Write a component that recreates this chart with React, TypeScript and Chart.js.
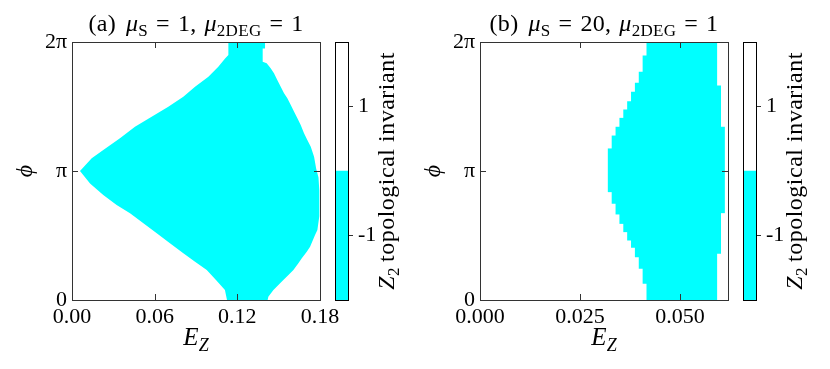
import React, { useEffect, useRef } from 'react';
import { Chart, registerables } from 'chart.js';

Chart.register(...registerables);

const FONT = '"Liberation Serif", "DejaVu Serif", serif';
const CYAN = '#00ffff';
const FRAME = '#333333';

// ---------- Panel (a): mu_S = 1, mu_2DEG = 1 ----------
const X_MAX_A = 0.18;
const X_TICKS_A = [0, 0.06, 0.12, 0.18];
// left edge of the Z2 = -1 region, from phi = 0 up to phi = 2pi (phi in units of pi)
const LEFT_EDGE_EZ_A = [0.1125, 0.111, 0.105, 0.0978, 0.0893, 0.0808, 0.0711, 0.0615, 0.0518, 0.0421, 0.0324, 0.0227, 0.0131, 0.0058, 0.0143, 0.0227, 0.0348, 0.0457, 0.0578, 0.0699, 0.0808, 0.0893, 0.099, 0.1062, 0.1111, 0.1135, 0.1135];
const LEFT_EDGE_PHI_A = [0, 0.078, 0.15, 0.233, 0.297, 0.362, 0.439, 0.517, 0.594, 0.672, 0.736, 0.814, 0.904, 1.0, 1.098, 1.163, 1.253, 1.343, 1.421, 1.498, 1.576, 1.653, 1.731, 1.809, 1.873, 1.899, 2.0];
// right edge, from phi = 2pi down to phi = 0
const RIGHT_EDGE_EZ_A = [0.1401, 0.1401, 0.1384, 0.1384, 0.1413, 0.1442, 0.1466, 0.149, 0.1515, 0.1539, 0.1563, 0.1588, 0.1612, 0.1636, 0.166, 0.1684, 0.1708, 0.1733, 0.1757, 0.1772, 0.1789, 0.1795, 0.1795, 0.1781, 0.1764, 0.1728, 0.1704, 0.1668, 0.1643, 0.1607, 0.1571, 0.1534, 0.1498, 0.1462, 0.1425, 0.142];
const RIGHT_EDGE_PHI_A = [2.0, 1.95, 1.95, 1.847, 1.835, 1.796, 1.757, 1.705, 1.654, 1.602, 1.563, 1.512, 1.46, 1.408, 1.357, 1.292, 1.24, 1.188, 1.111, 1.02, 0.95, 0.85, 0.65, 0.543, 0.504, 0.413, 0.375, 0.323, 0.284, 0.233, 0.194, 0.155, 0.116, 0.078, 0.026, 0];

// ---------- Panel (b): mu_S = 20, mu_2DEG = 1 ----------
const X_MAX_B = 0.062;
const X_TICKS_B = [0, 0.025, 0.05];
const EZ_COLUMNS_B = [0.032564, 0.033531, 0.034498, 0.035465, 0.036432, 0.037399, 0.038366, 0.039333, 0.0403, 0.041267, 0.042234, 0.043201, 0.044168, 0.045135, 0.046102, 0.047069, 0.048036, 0.049003, 0.04997, 0.050937, 0.051904, 0.052871, 0.053838, 0.054805, 0.055772, 0.056739, 0.057706, 0.058673, 0.05964, 0.060607];
const PHI_LOW_B = [0.84, 0.75, 0.667, 0.594, 0.53, 0.465, 0.408, 0.336, 0.246, 0.129, 0, 0, 0, 0, 0, 0, 0, 0, 0, 0, 0, 0, 0, 0, 0, 0, 0, 0, 0.362, 0.677];
const PHI_HIGH_B = [1.171, 1.271, 1.339, 1.408, 1.473, 1.537, 1.61, 1.68, 1.765, 1.891, 2, 2, 2, 2, 2, 2, 2, 2, 2, 2, 2, 2, 2, 2, 2, 2, 2, 2, 1.659, 1.339];

// ---------- shared axes ----------
const PHI_TICKS = [0, 1, 2]; // units of pi
const PHI_TICK_LABELS = ['0', 'π', '2π'];
const CBAR_MIN = -2;
const CBAR_MAX = 2;
const CBAR_TICKS = [-1, 1];
const CBAR_TICK_LABELS = ['-1', '1'];
const Z2_VALUES = [-1, 1];
const Z2_COLORS = [CYAN, '#ffffff'];

type Part = { t: string; it?: boolean; sub?: boolean; gap?: number };

const TITLE_A: Part[] = [
  { t: '(a)' }, { t: '', gap: 10 }, { t: 'μ', it: true }, { t: 'S', sub: true }, { t: '', gap: 8 }, { t: '=' }, { t: '', gap: 8 }, { t: '1,' }, { t: '', gap: 8 },
  { t: 'μ', it: true }, { t: '2DEG', sub: true }, { t: '', gap: 8 }, { t: '=' }, { t: '', gap: 8 }, { t: '1' },
];
const TITLE_B: Part[] = [
  { t: '(b)' }, { t: '', gap: 10 }, { t: 'μ', it: true }, { t: 'S', sub: true }, { t: '', gap: 8 }, { t: '=' }, { t: '', gap: 8 }, { t: '20,' }, { t: '', gap: 8 },
  { t: 'μ', it: true }, { t: '2DEG', sub: true }, { t: '', gap: 8 }, { t: '=' }, { t: '', gap: 8 }, { t: '1' },
];
const X_LABEL: Part[] = [{ t: 'E', it: true }, { t: 'Z', it: true, sub: true }];
const Y_LABEL: Part[] = [{ t: 'ϕ', it: true }];
const CBAR_LABEL: Part[] = [{ t: 'Z', it: true }, { t: '2', sub: true }, { t: '', gap: 5 }, { t: 'topological invariant' }];

function partFont(p: Part, size: number) {
  const s = p.sub ? Math.round(size * 0.7) : size;
  return `${p.it ? 'italic ' : ''}${s}px ${FONT}`;
}

function drawRich(ctx: CanvasRenderingContext2D, parts: Part[], x: number, y: number, size = 24, spacing = 0) {
  ctx.save();
  ctx.textBaseline = 'alphabetic';
  ctx.textAlign = 'left';
  ctx.fillStyle = '#000';
  (ctx as any).letterSpacing = `${spacing}px`;
  const widthOf = (p: Part) => {
    if (p.gap) return p.gap;
    ctx.font = partFont(p, size);
    return ctx.measureText(p.t).width;
  };
  let w = 0;
  for (const p of parts) w += widthOf(p);
  let cx = x - w / 2;
  for (const p of parts) {
    const pw = widthOf(p);
    if (!p.gap) ctx.fillText(p.t, cx, y + (p.sub ? Math.round(size * 0.22) : 0));
    cx += pw;
  }
  ctx.restore();
}

function makeDecor(title: Part[]) {
  return {
    id: 'decor',
    afterDraw(chart: any) {
      const { ctx, chartArea: a, scales } = chart;
      const xs = scales.x;
      const ys = scales.y;
      ctx.save();
      ctx.strokeStyle = FRAME;
      ctx.lineWidth = 1;
      ctx.beginPath();
      for (const t of xs.ticks) {
        const px = Math.round(xs.getPixelForValue(t.value)) + 0.5;
        ctx.moveTo(px, a.bottom);
        ctx.lineTo(px, a.bottom - 6);
        ctx.moveTo(px, a.top);
        ctx.lineTo(px, a.top + 6);
      }
      for (const t of ys.ticks) {
        const py = Math.round(ys.getPixelForValue(t.value)) + 0.5;
        ctx.moveTo(a.left, py);
        ctx.lineTo(a.left + 6, py);
        ctx.moveTo(a.right, py);
        ctx.lineTo(a.right - 6, py);
      }
      ctx.stroke();
      ctx.strokeRect(Math.round(a.left) + 0.5, Math.round(a.top) + 0.5, Math.round(a.right - a.left), Math.round(a.bottom - a.top));
      const cx = (a.left + a.right) / 2;
      drawRich(ctx, title, cx, 31, 24, 0.3);
      drawRich(ctx, X_LABEL, cx, 345, 25);
      ctx.translate(a.left - 40, (a.top + a.bottom) / 2);
      ctx.rotate(-Math.PI / 2);
      drawRich(ctx, Y_LABEL, 0, 0, 24);
      ctx.restore();
    },
  };
}

const cbarDecor = {
  id: 'cbarDecor',
  afterDraw(chart: any) {
    const { ctx, chartArea: a } = chart;
    ctx.save();
    ctx.strokeStyle = '#000';
    ctx.lineWidth = 1;
    ctx.strokeRect(Math.round(a.left) + 0.5, Math.round(a.top) + 0.5, Math.round(a.right - a.left), Math.round(a.bottom - a.top));
    ctx.translate(a.right + 46, (a.top + a.bottom) / 2);
    ctx.rotate(-Math.PI / 2);
    drawRich(ctx, CBAR_LABEL, 0, 0, 24, 0.5);
    ctx.restore();
  },
};

const tickFont = { family: FONT, size: 22 };

function phiAxis() {
  return {
    type: 'linear',
    min: 0,
    max: 2,
    grid: { display: false, drawTicks: false },
    border: { display: false },
    afterBuildTicks: (s: any) => { s.ticks = PHI_TICKS.map((v) => ({ value: v })); },
    afterFit: (s: any) => { s.width = 72; },
    ticks: { font: tickFont, color: '#000', padding: 5, callback: (_v: any, i: number) => PHI_TICK_LABELS[i] },
  };
}

function ezAxis(max: number, ticks: number[], digits: number) {
  return {
    type: 'linear',
    min: 0,
    max,
    offset: false,
    grid: { display: false, drawTicks: false, offset: false },
    border: { display: false },
    afterBuildTicks: (s: any) => { s.ticks = ticks.map((v) => ({ value: v })); },
    afterFit: (s: any) => { s.height = 69; },
    ticks: { font: tickFont, color: '#000', padding: 4, maxRotation: 0, autoSkip: false, callback: (v: any) => Number(v).toFixed(digits) },
  };
}

const baseOptions = {
  animation: false,
  responsive: false,
  maintainAspectRatio: false,
  events: [],
  plugins: { legend: { display: false }, tooltip: { enabled: false }, title: { display: false } },
};

function cbarConfig() {
  return {
    type: 'bar',
    data: {
      labels: [''],
      datasets: Z2_VALUES.map((z, i) => ({
        label: `Z2 = ${z}`,
        data: [[z < 0 ? CBAR_MIN : 0, z < 0 ? 0 : CBAR_MAX]],
        backgroundColor: Z2_COLORS[i],
        borderWidth: 0,
        categoryPercentage: 1,
        barPercentage: 1,
        grouped: false,
      })),
    },
    options: {
      ...baseOptions,
      layout: { padding: { left: 5, right: 0, top: 42, bottom: 69 } },
      scales: {
        x: { display: false },
        y: {
          type: 'linear',
          position: 'right',
          min: CBAR_MIN,
          max: CBAR_MAX,
          border: { display: false },
          grid: { drawOnChartArea: false, drawTicks: true, tickLength: 5, color: FRAME },
          afterBuildTicks: (s: any) => { s.ticks = CBAR_TICKS.map((v) => ({ value: v })); },
          afterFit: (s: any) => { s.width = 67; },
          ticks: { font: tickFont, color: '#000', padding: 5, callback: (_v: any, i: number) => CBAR_TICK_LABELS[i] },
        },
      },
    },
    plugins: [cbarDecor],
  };
}

export default function App() {
  const aRef = useRef<HTMLCanvasElement>(null);
  const bRef = useRef<HTMLCanvasElement>(null);
  const caRef = useRef<HTMLCanvasElement>(null);
  const cbRef = useRef<HTMLCanvasElement>(null);

  useEffect(() => {
    const polygonA = [
      ...LEFT_EDGE_EZ_A.map((x, i) => ({ x, y: LEFT_EDGE_PHI_A[i] })),
      ...RIGHT_EDGE_EZ_A.map((x, i) => ({ x, y: RIGHT_EDGE_PHI_A[i] })),
    ];
    const chartA = new Chart(aRef.current as HTMLCanvasElement, {
      type: 'line',
      data: {
        datasets: [{
          label: 'Z2 = -1',
          data: polygonA,
          fill: 'shape',
          backgroundColor: CYAN,
          borderColor: CYAN,
          borderWidth: 0,
          pointRadius: 0,
          tension: 0,
        }],
      },
      options: {
        ...baseOptions,
        layout: { padding: { left: 0, right: 25, top: 42, bottom: 0 } },
        scales: { x: ezAxis(X_MAX_A, X_TICKS_A, 2), y: phiAxis() },
      },
      plugins: [makeDecor(TITLE_A)],
    } as any);

    const chartB = new Chart(bRef.current as HTMLCanvasElement, {
      type: 'bar',
      data: {
        datasets: [{
          label: 'Z2 = -1',
          data: EZ_COLUMNS_B.map((x, i) => ({ x, y: [PHI_LOW_B[i], PHI_HIGH_B[i]] })),
          backgroundColor: CYAN,
          borderWidth: 0,
          categoryPercentage: 1,
          barPercentage: 1,
          inflateAmount: 0.5,
        }],
      },
      options: {
        ...baseOptions,
        layout: { padding: { left: 0, right: 25, top: 42, bottom: 0 } },
        scales: { x: ezAxis(X_MAX_B, X_TICKS_B, 3), y: phiAxis() },
      },
      plugins: [makeDecor(TITLE_B)],
    } as any);

    const cA = new Chart(caRef.current as HTMLCanvasElement, cbarConfig() as any);
    const cB = new Chart(cbRef.current as HTMLCanvasElement, cbarConfig() as any);

    return () => {
      chartA.destroy();
      chartB.destroy();
      cA.destroy();
      cB.destroy();
    };
  }, []);

  const abs = (left: number, width: number): React.CSSProperties => ({
    position: 'absolute', left, top: 0, width, height: 369,
  });

  return (
    <div style={{ position: 'absolute', left: 0, top: 0, width: 830, height: 369, background: '#fff', overflow: 'hidden' }}>
      <canvas ref={aRef} width={345} height={369} style={abs(0, 345)} />
      <canvas ref={bRef} width={345} height={369} style={abs(408, 345)} />
      <canvas ref={caRef} width={85} height={369} style={abs(330, 85)} />
      <canvas ref={cbRef} width={85} height={369} style={abs(738, 85)} />
    </div>
  );
}
